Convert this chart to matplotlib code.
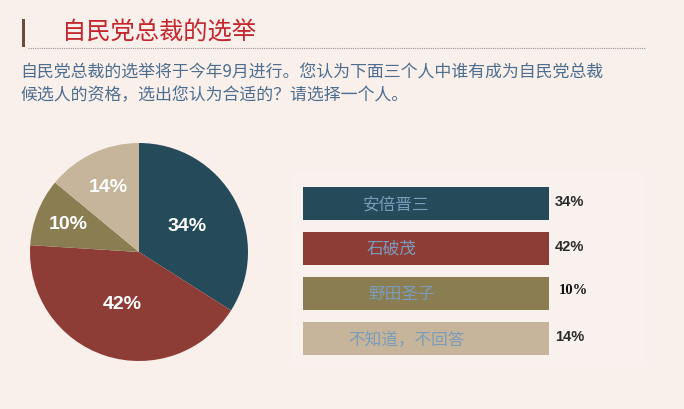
import matplotlib
matplotlib.use("Agg")
import matplotlib.pyplot as plt
from matplotlib.patches import Rectangle
import numpy as np

# ---- data ----
title = "自民党总裁的选举"
subtitle_lines = ["自民党总裁的选举将于今年9月进行。您认为下面三个人中谁有成为自民党总裁",
                  "候选人的资格，选出您认为合适的？请选择一个人。"]
categories = ["安倍晋三", "石破茂", "野田圣子", "不知道，不回答"]
values = [34, 42, 10, 14]
colors = ["#254a5a", "#8e3c36", "#8b7d52", "#c6b59b"]

BG = "#f9efeb"
plt.rcParams['font.family'] = ['Noto Sans CJK SC', 'DejaVu Sans']

W, H = 684, 410
fig = plt.figure(figsize=(W / 100, H / 100), dpi=100, facecolor=BG)

# background axes in pixel coordinates
bg = fig.add_axes([0, 0, 1, 1])
bg.set_xlim(0, W)
bg.set_ylim(H, 0)
bg.axis("off")
bg.set_facecolor(BG)

# faint panel behind bars
bg.add_patch(Rectangle((293, 173), 350, 194, facecolor="#f8f1ee", edgecolor="none", zorder=0))

# title decoration
bg.add_patch(Rectangle((22, 20), 3, 28, facecolor="#6b4a40", edgecolor="none"))
bg.plot([28, 645], [48.5, 48.5], color="#9a9090", lw=0.8, ls=(0, (1, 1)))
bg.text(62, 33, title, color="#c4262e", fontsize=17.5, va="center", ha="left")
bg.text(20, 73, subtitle_lines[0], color="#4d6e8e", fontsize=12.2, va="center", ha="left")
bg.text(20, 95, subtitle_lines[1], color="#4d6e8e", fontsize=12.2, va="center", ha="left")

# ---- pie ----
cx, cy, r = 139, 253, 109
pax = fig.add_axes([(cx - r) / W, (H - cy - r) / H, 2 * r / W, 2 * r / H])
wedges, texts, autotexts = pax.pie(values, colors=colors, startangle=90, counterclock=False,
                                   autopct="%d%%", pctdistance=0.5,
                                   wedgeprops=dict(linewidth=0),
                                   textprops=dict(color="white", fontsize=14, fontweight="bold",
                                                  family="Liberation Sans"))
dists = [0.5, 0.5, 0.7, 0.66]
for w, t, d in zip(wedges, autotexts, dists):
    ang = np.deg2rad((w.theta1 + w.theta2) / 2)
    t.set_position((d * np.cos(ang), d * np.sin(ang)))
pax.set_xlim(-1, 1)
pax.set_ylim(-1, 1)
pax.set_aspect("auto")
pax.axis("off")

# ---- bars ----
top, bot = 182, 362
bax = fig.add_axes([303 / W, (H - bot) / H, 246 / W, (bot - top) / H])
bax.set_facecolor("none")
ypos = list(range(len(categories)))
bax.barh(ypos, [1] * len(categories), height=0.73, color=colors, left=0)
bax.set_xlim(0, 1)
bax.set_ylim(len(categories) - 0.5, -0.5)
bax.axis("off")
label_x = [0.38, 0.36, 0.40, 0.42]
for i, (c, v) in enumerate(zip(categories, values)):
    bax.text(label_x[i], i, c, color="#7a9cba", fontsize=12, ha="center", va="center")
    if v == 10:
        bax.text(1.04, i - 0.08, f"{v}%", color="#111111", fontsize=10.5, ha="left", va="center",
                 family="Liberation Serif", fontweight="bold")
    else:
        bax.text(1.025, i - 0.05, f"{v}%", color="#2a2a2a", fontsize=10.5, ha="left", va="center",
                 family="Liberation Sans", fontweight="bold")

fig.savefig("out.png", dpi=100, facecolor=BG)
